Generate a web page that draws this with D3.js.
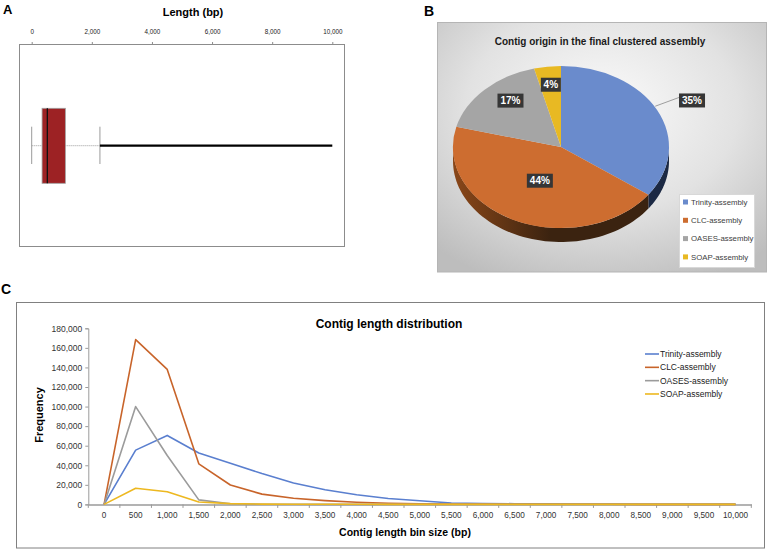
<!DOCTYPE html>
<html><head><meta charset="utf-8">
<script src="https://cdn.jsdelivr.net/npm/d3@7/dist/d3.min.js"></script>
<style>
body{margin:0;background:#fff}
svg{display:block}
text{font-family:"Liberation Sans",Arial,sans-serif}
</style>
</head><body>
<svg id="c" width="767" height="550"></svg>
<script>
// ---------- DATA ----------
// Panel A: contig length summary (bp)
const lengthTicks = [0, 2000, 4000, 6000, 8000, 10000];
const lengthSummaryNames = ["min", "q1", "median", "q3", "whiskerHigh", "max"];
const lengthSummary = [0, 345, 520, 1120, 2270, 10000];

// Panel B: contig origin
const pieCategories = ["Trinity-assembly", "CLC-assembly", "OASES-assembly", "SOAP-assembly"];
const pieShares = [35, 44, 17, 4];

// Panel C: contig length distribution
const bins = [0,500,1000,1500,2000,2500,3000,3500,4000,4500,5000,5500,6000,6500,7000,7500,8000,8500,9000,9500,10000];
const seriesNames = ["Trinity-assembly", "CLC-assembly", "OASES-assembly", "SOAP-assembly"];
const trinity = [0, 55500, 70500, 52500, 42000, 31500, 21800, 15000, 9800, 6000, 3800, 1500, 900, 700, 500, 400, 300, 200, 150, 100, 100];
const clc     = [0, 168500, 138000, 41500, 19800, 10500, 6300, 3900, 2200, 1200, 700, 400, 300, 200, 150, 100, 100, 50, 50, 50, 0];
const oases   = [0, 100000, 50000, 4600, 600, 200, 100, 50, 0, 0, 0, 0, 0, 0, 0, 0, 0, 0, 0, 0, 0];
const soap    = [0, 16500, 13000, 2500, 800, 300, 200, 100, 100, 50, 50, 50, 0, 0, 0, 0, 0, 0, 0, 0, 0];
const freqTicks = [0,20000,40000,60000,80000,100000,120000,140000,160000,180000];

// ---------- STYLE ----------
const pieColors = ["#6a8bcc", "#cd6d30", "#a5a5a5", "#e8b923"];
const sideColors = [["#2b3d62", "#1c2944"], ["#8a4719", "#3b2310"], ["#6b6b6b", "#4a4a4a"], ["#9a7a15", "#6e560c"]];
const lineColors = ["#5a7fcf", "#c8642a", "#9b9b9b", "#edb820"];

const svg = d3.select("#c");
const defs = svg.append("defs");
const fmt = d3.format(",");

// ---------- PANEL A ----------
const gA = svg.append("g");
gA.append("text").attr("x", 3).attr("y", 14).attr("font-size", 13).attr("font-weight", "bold").text("A");
gA.append("text").attr("x", 193).attr("y", 15.5).attr("text-anchor", "middle")
  .attr("font-size", 11).attr("font-weight", "bold").text("Length (bp)");

const xA = d3.scaleLinear().domain([0, 10000]).range([31.7, 332.3]);
const axA = gA.append("g").attr("transform", "translate(0,45)")
  .call(d3.axisTop(xA).tickValues(lengthTicks).tickFormat(fmt).tickSize(3).tickPadding(8));
axA.select(".domain").remove();
axA.selectAll(".tick line").attr("stroke", "#8c8c8c");
axA.selectAll(".tick text").attr("font-family", "DejaVu Sans").attr("font-size", 6.3).attr("fill", "#222");

gA.append("rect").attr("x", 19.5).attr("y", 44.5).attr("width", 325).attr("height", 202)
  .attr("fill", "none").attr("stroke", "#8c8c8c");

const S = {};
lengthSummaryNames.forEach((n, i) => S[n] = lengthSummary[i]);
const yMid = 145.7;
gA.append("line").attr("x1", xA(S.min)).attr("x2", xA(S.q1)).attr("y1", yMid).attr("y2", yMid)
  .attr("stroke", "#9a9a9a").attr("stroke-dasharray", "1,1");
gA.append("line").attr("x1", xA(S.q3)).attr("x2", xA(S.whiskerHigh)).attr("y1", yMid).attr("y2", yMid)
  .attr("stroke", "#9a9a9a").attr("stroke-dasharray", "1,1");
[S.min, S.whiskerHigh].forEach(v => {
  gA.append("line").attr("x1", xA(v)).attr("x2", xA(v)).attr("y1", 126.7).attr("y2", 164)
    .attr("stroke", "#9a9a9a");
});
gA.append("rect").attr("x", xA(S.q1)).attr("y", 108.3).attr("width", xA(S.q3) - xA(S.q1)).attr("height", 75)
  .attr("fill", "#9d2224").attr("stroke", "#a0a0a0").attr("stroke-width", 0.8);
gA.append("line").attr("x1", xA(S.median)).attr("x2", xA(S.median)).attr("y1", 108.3).attr("y2", 183.3)
  .attr("stroke", "#111").attr("stroke-width", 1.3);
gA.append("line").attr("x1", xA(S.whiskerHigh)).attr("x2", xA(S.max)).attr("y1", yMid).attr("y2", yMid)
  .attr("stroke", "#000").attr("stroke-width", 2.2);

// ---------- PANEL B ----------
const gB = svg.append("g");
gB.append("text").attr("x", 424).attr("y", 15.5).attr("font-size", 14).attr("font-weight", "bold").text("B");

const rg = defs.append("radialGradient").attr("id", "bgB").attr("cx", "50%").attr("cy", "35%").attr("r", "75%");
rg.append("stop").attr("offset", "0%").attr("stop-color", "#fbfbfb");
rg.append("stop").attr("offset", "55%").attr("stop-color", "#e2e2e2");
rg.append("stop").attr("offset", "100%").attr("stop-color", "#bdbdbd");
gB.append("rect").attr("x", 437.5).attr("y", 22.5).attr("width", 329).attr("height", 249.5)
  .attr("fill", "url(#bgB)").attr("stroke", "#b5b5b5");
gB.append("text").attr("x", 600).attr("y", 44.5).attr("text-anchor", "middle")
  .attr("font-size", 10).attr("font-weight", "bold").attr("fill", "#1a1a1a")
  .text("Contig origin in the final clustered assembly");

const cx = 561, cy = 147, rx = 108, ry = 81, depth = 14;
const arcs = d3.pie().sort(null).value(d => d)(pieShares);
const pt = (a, dy) => [cx + rx * Math.sin(a), cy - ry * Math.cos(a) + dy];

// side walls
arcs.forEach((a, i) => {
  const s = Math.max(a.startAngle, Math.PI / 2), e = Math.min(a.endAngle, 3 * Math.PI / 2);
  if (s >= e) return;
  const gid = "side" + i;
  const lg = defs.append("linearGradient").attr("id", gid).attr("gradientUnits", "userSpaceOnUse")
    .attr("x1", cx - rx).attr("x2", cx + rx).attr("y1", 0).attr("y2", 0);
  lg.append("stop").attr("offset", "0%").attr("stop-color", sideColors[i][0]);
  lg.append("stop").attr("offset", "45%").attr("stop-color", sideColors[i][1]);
  lg.append("stop").attr("offset", "100%").attr("stop-color", sideColors[i][1]);
  const n = 60, top = [], bot = [];
  for (let k = 0; k <= n; k++) {
    const t = s + (e - s) * k / n;
    top.push(pt(t, 0)); bot.push(pt(t, depth));
  }
  const pts = top.concat(bot.reverse());
  gB.append("path").attr("d", "M" + pts.map(p => p.join(",")).join("L") + "Z")
    .attr("fill", "url(#" + gid + ")");
});

// top faces
const arcGen = d3.arc().innerRadius(0).outerRadius(1);
const topG = gB.append("g").attr("transform", `translate(${cx},${cy}) scale(${rx},${ry})`);
topG.selectAll("path").data(arcs).join("path")
  .attr("d", arcGen).attr("fill", (d, i) => pieColors[i]);

// data labels
const labelR = [1.32, 0.46, 0.74, 0.75];
const labelDx = [4, 0, 6, 0];
const labelDy = [2, 0, -4, -2];
arcs.forEach((a, i) => {
  const m = (a.startAngle + a.endAngle) / 2;
  const [lx0, ly0] = [cx + rx * labelR[i] * Math.sin(m) + labelDx[i], cy - ry * labelR[i] * Math.cos(m) + labelDy[i]];
  const txt = pieShares[i] + "%";
  const w = txt.length === 3 ? 26 : 20, h = 14;
  if (labelR[i] > 1) {
    const [ex, ey] = pt(m, 0);
    gB.append("line").attr("x1", ex - 2).attr("y1", ey - 4).attr("x2", lx0 - w / 2).attr("y2", ly0 - 3)
      .attr("stroke", "#7a7a7a").attr("stroke-width", 0.7);
  }
  gB.append("rect").attr("x", lx0 - w / 2).attr("y", ly0 - h / 2).attr("width", w).attr("height", h)
    .attr("fill", "#363636");
  gB.append("text").attr("x", lx0).attr("y", ly0).attr("dy", "0.36em").attr("text-anchor", "middle")
    .attr("font-size", 10).attr("font-weight", "bold").attr("fill", "#fff").text(txt);
});

// legend B
gB.append("rect").attr("x", 679.5).attr("y", 194.5).attr("width", 75).attr("height", 73)
  .attr("fill", "#fff").attr("stroke", "#d8d8d8");
pieCategories.forEach((c, i) => {
  const y = 202 + i * 18.3;
  gB.append("rect").attr("x", 683).attr("y", y - 2.5).attr("width", 5).attr("height", 5).attr("fill", pieColors[i]);
  gB.append("text").attr("x", 691).attr("y", y).attr("dy", "0.35em").attr("font-size", 7.8)
    .attr("fill", "#404040").text(c);
});

// ---------- PANEL C ----------
const gC = svg.append("g");
gC.append("text").attr("x", 1).attr("y", 294).attr("font-size", 14).attr("font-weight", "bold").text("C");
gC.append("rect").attr("x", 16.5).attr("y", 302.5).attr("width", 748).attr("height", 245.5)
  .attr("fill", "#fff").attr("stroke", "#808080");

const binLabels = bins.map(fmt);
const xC = d3.scaleBand().domain(binLabels).range([88.3, 751.3]);
const bw = xC.bandwidth();
const yC = d3.scaleLinear().domain([0, 180000]).range([504.4, 328.3]);

const ay = gC.append("g").attr("transform", "translate(88.3,0)")
  .call(d3.axisLeft(yC).tickValues(freqTicks).tickFormat(fmt).tickSize(3).tickPadding(3));
ay.select(".domain").attr("stroke", "#9a9a9a");
ay.selectAll(".tick line").attr("stroke", "#9a9a9a");
ay.selectAll(".tick text").attr("font-size", 8.5).attr("fill", "#333");

const ax = gC.append("g").attr("transform", "translate(0,504.4)")
  .call(d3.axisBottom(xC).tickSize(0).tickPadding(8));
ax.select(".domain").attr("stroke", "#9a9a9a").attr("stroke-width", 1.5);
ax.selectAll(".tick text").attr("font-size", 8.2).attr("fill", "#333");
ax.selectAll(".bnd").data(binLabels.concat(["end"])).join("line").attr("class", "bnd")
  .attr("x1", (d, i) => 88.3 + i * bw).attr("x2", (d, i) => 88.3 + i * bw)
  .attr("y1", 0).attr("y2", 3.5).attr("stroke", "#9a9a9a");

gC.append("text").attr("x", 389).attr("y", 328).attr("text-anchor", "middle")
  .attr("font-size", 12).attr("font-weight", "bold").text("Contig length distribution");
gC.append("text").attr("transform", "translate(43,415) rotate(-90)").attr("text-anchor", "middle")
  .attr("font-size", 11).attr("font-weight", "bold").text("Frequency");
gC.append("text").attr("x", 405).attr("y", 536).attr("text-anchor", "middle")
  .attr("font-size", 10.5).attr("font-weight", "bold").text("Contig length bin size (bp)");

const allSeries = [trinity, clc, oases, soap];
const lineGen = d3.line().x((d, i) => xC(binLabels[i]) + bw / 2).y(d => yC(d));
allSeries.forEach((s, k) => {
  gC.append("path").attr("d", lineGen(s)).attr("fill", "none")
    .attr("stroke", lineColors[k]).attr("stroke-width", 1.6).attr("stroke-linejoin", "round");
});

seriesNames.forEach((n, i) => {
  const y = 354 + i * 13.33;
  gC.append("line").attr("x1", 645).attr("x2", 659).attr("y1", y).attr("y2", y)
    .attr("stroke", lineColors[i]).attr("stroke-width", 1.6);
  gC.append("text").attr("x", 660).attr("y", y).attr("dy", "0.35em").attr("font-size", 8.5)
    .attr("fill", "#222").text(n);
});
</script>
</body></html>
